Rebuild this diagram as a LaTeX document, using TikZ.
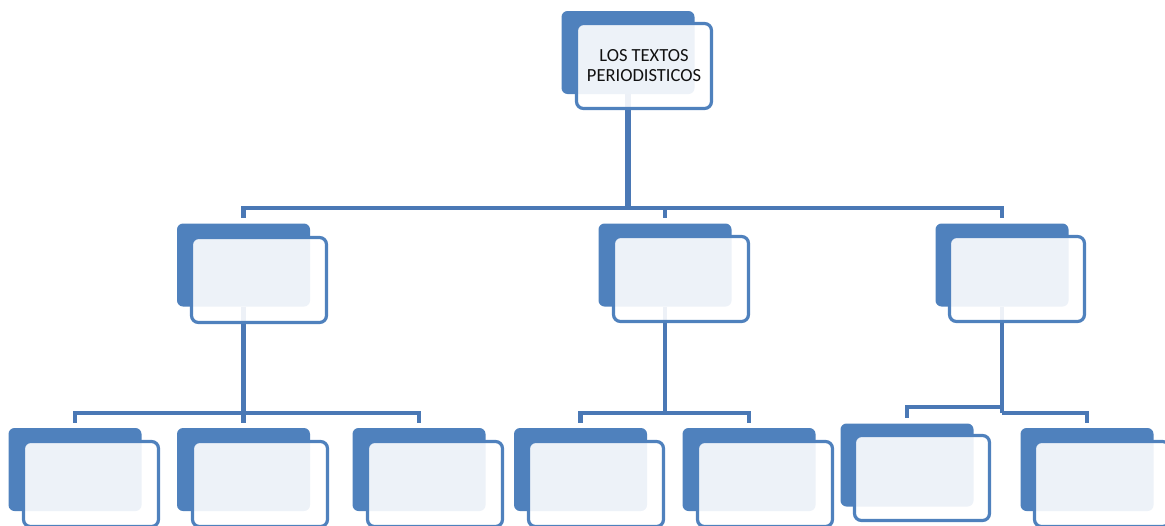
\documentclass[tikz,border=0pt]{standalone}
\usepackage{fontspec}
\setmainfont{Carlito}
\definecolor{boxblue}{HTML}{4F81BD}
\definecolor{lineblue}{HTML}{4A78B5}
\definecolor{txt}{HTML}{111111}
\begin{document}
\begin{tikzpicture}[x=1pt,y=-1pt,
  backbox/.style={fill=boxblue,draw=none,rounded corners=6pt,minimum width=133pt,minimum height=83pt,inner sep=0pt},
  frontbox/.style={fill=white,fill opacity=0.9,text opacity=1,draw=boxblue,line width=3.2pt,rounded corners=7pt,minimum width=135pt,minimum height=85pt,inner sep=0pt,align=center,text=txt,font=\fontsize{18.5}{20}\selectfont},
  conn/.style={draw=lineblue,line width=4.4pt},
  drop/.style={conn,shorten >=5pt}]
\useasboundingbox (0,0) rectangle (1165,525);
\clip (0,0) rectangle (1165,525);
% back boxes
\node[backbox] (b0) at (628,52.5) {};
\node[backbox] (bA) at (243.5,265) {};
\node[backbox] (bB) at (665,265) {};
\node[backbox] (bC) at (1002,265) {};
\node[backbox] (b1) at (75,469.5) {};
\node[backbox] (b2) at (243.5,469.5) {};
\node[backbox] (b3) at (419,469.5) {};
\node[backbox] (b4) at (580.5,469.5) {};
\node[backbox] (b5) at (749,469.5) {};
\node[backbox] (b6) at (907,465) {};
\node[backbox] (b7) at (1087,469.5) {};
% junctions
\coordinate (j0) at (628,208);
\coordinate (jA) at (243.5,413);
\coordinate (jB) at (665,413);
\coordinate (jC1) at (1002,407);
\coordinate (jC2) at (1002,413);
% connectors
\draw[conn,line width=5.5pt] (b0.south) -- (j0);
\draw[drop] (j0) -| (bA.north);
\draw[drop] (j0) -| (bB.north);
\draw[drop] (j0) -| (bC.north);
\draw[conn] (bA.south) -- (jA);
\draw[drop] (jA) -| (b1.north);
\draw[drop] (jA) -- (b2.north);
\draw[drop] (jA) -| (b3.north);
\draw[conn] (bB.south) -- (jB);
\draw[drop] (jB) -| (b4.north);
\draw[drop] (jB) -| (b5.north);
\draw[conn] (bC.south) -- (jC2);
\draw[drop] (jC1) -| (b6.north);
\draw[drop] (jC2) -| (b7.north);
% front boxes
\node[frontbox] (f0) at (644,66) {LOS TEXTOS\\PERIODISTICOS};
\node[frontbox] (fA) at (259,280) {};
\node[frontbox] (fB) at (681,279) {};
\node[frontbox] (fC) at (1017,279) {};
\node[frontbox] (f1) at (91,484) {};
\node[frontbox] (f2) at (260,484) {};
\node[frontbox] (f3) at (435,484) {};
\node[frontbox] (f4) at (596,484) {};
\node[frontbox] (f5) at (765,484) {};
\node[frontbox] (f6) at (922,478) {};
\node[frontbox] (f7) at (1102,484) {};
\end{tikzpicture}
\end{document}
